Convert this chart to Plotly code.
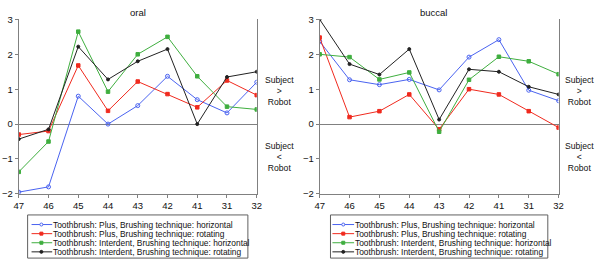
import plotly.graph_objects as go

teeth = ["47", "46", "45", "44", "43", "42", "41", "31", "32"]
y_ticks = [-2, -1, 0, 1, 2, 3]

series_names = [
    "Toothbrush: Plus, Brushing technique: horizontal",
    "Toothbrush: Plus, Brushing technique: rotating",
    "Toothbrush: Interdent, Brushing technique: horizontal",
    "Toothbrush: Interdent, Brushing technique: rotating",
]

oral_plus_horizontal = [-1.95, -1.80, 0.80, 0.00, 0.53, 1.37, 0.70, 0.32, 1.20]
oral_plus_rotating = [-0.30, -0.20, 1.68, 0.38, 1.22, 0.86, 0.48, 1.25, 0.83]
oral_interdent_horizontal = [-1.37, -0.50, 2.65, 0.93, 2.00, 2.50, 1.37, 0.50, 0.42]
oral_interdent_rotating = [-0.43, -0.15, 2.22, 1.28, 1.80, 2.15, 0.00, 1.35, 1.50]

buccal_plus_horizontal = [2.37, 1.27, 1.13, 1.28, 0.98, 1.92, 2.42, 0.97, 0.67]
buccal_plus_rotating = [2.48, 0.20, 0.37, 0.85, -0.15, 1.00, 0.85, 0.37, -0.10]
buccal_interdent_horizontal = [2.00, 1.92, 1.28, 1.48, -0.22, 1.27, 1.93, 1.80, 1.43]
buccal_interdent_rotating = [3.00, 1.72, 1.42, 2.15, 0.13, 1.57, 1.50, 1.07, 0.85]

oral = [oral_plus_horizontal, oral_plus_rotating, oral_interdent_horizontal, oral_interdent_rotating]
buccal = [buccal_plus_horizontal, buccal_plus_rotating, buccal_interdent_horizontal, buccal_interdent_rotating]

colors = ["#4a63f0", "#f02a1e", "#3fae3f", "#222222"]
symbols = ["circle-open", "square", "square", "circle"]
msizes = [4, 3.5, 3.5, 3]

W, H = 600, 265
FONT = "Liberation Sans, Arial, sans-serif"
AX = "#808080"

def px_x(x):
    return x / W

def px_y(y):
    return 1 - y / H

fig = go.Figure()

for vals_set, xa, ya in [(oral, "x", "y"), (buccal, "x2", "y2")]:
    for i, vals in enumerate(vals_set):
        fig.add_trace(go.Scatter(
            x=teeth, y=vals, mode="lines+markers", xaxis=xa, yaxis=ya,
            line=dict(color=colors[i], width=1),
            marker=dict(symbol=symbols[i], size=msizes[i], color=colors[i],
                        line=dict(color=colors[i], width=1)),
            showlegend=False, hoverinfo="skip",
        ))

# legend boxes drawn in paper coordinates
legend_rows = [228, 237.5, 247, 256.5]
for (x0, x1, xm, xt, bx0, bx1) in [(27, 48, 37, 48, 23, 247), (333, 355, 344, 355, 331, 552)]:
    fig.add_shape(type="rect", xref="paper", yref="paper",
                  x0=px_x(bx0), x1=px_x(bx1), y0=px_y(263), y1=px_y(218),
                  line=dict(color="#606060", width=1))
    for i, yy in enumerate(legend_rows):
        fig.add_shape(type="line", xref="paper", yref="paper",
                      x0=px_x(x0), x1=px_x(x1), y0=px_y(yy), y1=px_y(yy),
                      line=dict(color=colors[i], width=1))
        s = 3
        shape_type = "circle" if symbols[i].startswith("circle") else "rect"
        fill = "white" if symbols[i].endswith("open") else colors[i]
        fig.add_shape(type=shape_type, xref="paper", yref="paper",
                      xsizemode="pixel", ysizemode="pixel",
                      xanchor=px_x(xm), yanchor=px_y(yy),
                      x0=-s / 2, x1=s / 2, y0=-s / 2, y1=s / 2,
                      fillcolor=fill, line=dict(color=colors[i], width=1))
        fig.add_annotation(xref="paper", yref="paper", x=px_x(xt), y=px_y(yy),
                           text=series_names[i], showarrow=False,
                           xanchor="left", yanchor="middle", borderpad=0,
                           font=dict(family=FONT, size=8.4, color="#111111"))

# side labels
for cx in [279, 584]:
    for txt, yy in [("Subject<br>><br>Robot", 89), ("Subject<br><<br>Robot", 157.5)]:
        fig.add_annotation(xref="paper", yref="paper", x=px_x(cx), y=px_y(yy),
                           text=txt, showarrow=False, borderpad=0,
                           xanchor="center", yanchor="middle", align="center",
                           font=dict(family=FONT, size=8.6, color="#111111"))

# titles
for cx, t in [(135, "oral"), (436, "buccal")]:
    fig.add_annotation(xref="paper", yref="paper", x=px_x(cx), y=px_y(7), text=t,
                       showarrow=False, xanchor="center", yanchor="middle",
                       font=dict(family=FONT, size=9.5, color="#111111"))

common_x = dict(type="category", categoryorder="array", categoryarray=teeth,
                range=[0, 8], showline=True, linecolor=AX, linewidth=1, mirror=False,
                showgrid=False, zeroline=False, ticks="outside", ticklen=3, tickcolor=AX,
                tickfont=dict(family=FONT, size=9.5, color="#111111"))
common_y = dict(range=[-2, 3], tickvals=y_ticks, showline=True, linecolor=AX, linewidth=1,
                mirror=True, showgrid=False, zeroline=True, zerolinecolor=AX, zerolinewidth=1,
                ticks="outside", ticklen=3, tickcolor=AX,
                tickfont=dict(family=FONT, size=9.5, color="#111111"))

ydom = [px_y(196), px_y(14)]
fig.update_layout(
    width=W, height=H, margin=dict(l=0, r=0, t=0, b=0),
    paper_bgcolor="white", plot_bgcolor="white", showlegend=False,
    xaxis=dict(common_x, domain=[px_x(14), px_x(256)], anchor="y"),
    yaxis=dict(common_y, domain=ydom, anchor="x"),
    xaxis2=dict(common_x, domain=[px_x(320), px_x(563)], anchor="y2"),
    yaxis2=dict(common_y, domain=ydom, anchor="x2"),
)

fig.write_html("out.html", config={"displayModeBar": False, "staticPlot": True},
               post_script="document.body.style.margin='0';document.body.style.padding='0';document.body.style.overflow='hidden';")
